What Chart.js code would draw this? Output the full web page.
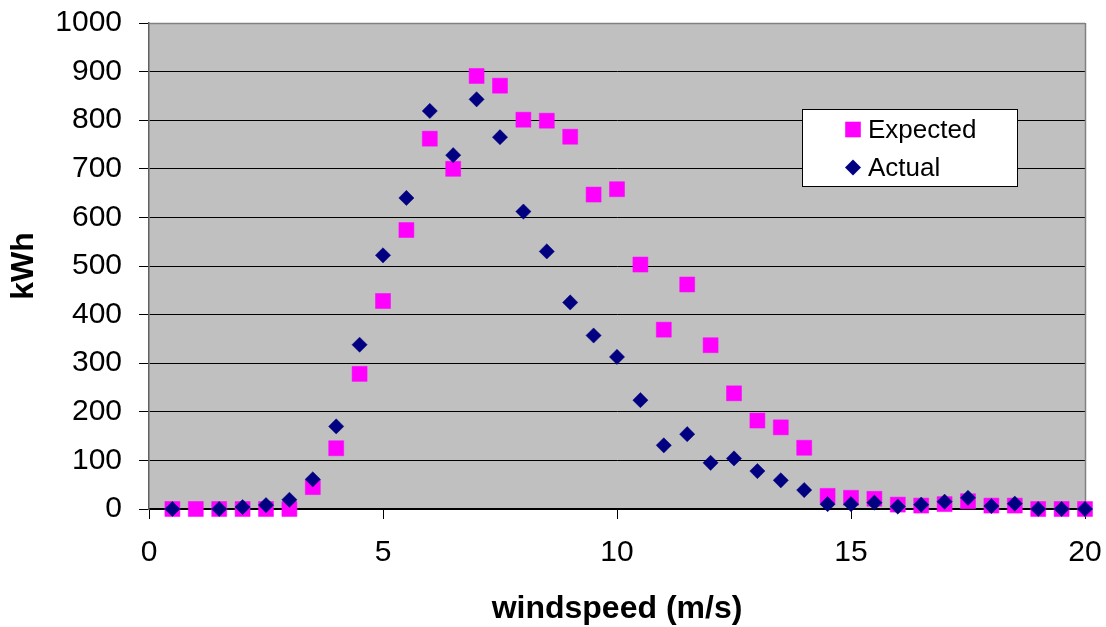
<!DOCTYPE html>
<html>
<head>
<meta charset="utf-8">
<script src="https://cdn.jsdelivr.net/npm/chart.js@4/dist/chart.umd.min.js"></script>
<style>
  html, body { margin: 0; padding: 0; background: #ffffff; }
  #wrap { width: 1106px; height: 627px; position: relative; }
</style>
</head>
<body>
<div id="wrap"><canvas id="c" width="1106" height="627"></canvas></div>
<script>
const windspeed = [0.5, 1, 1.5, 2, 2.5, 3, 3.5, 4, 4.5, 5, 5.5, 6, 6.5, 7, 7.5, 8, 8.5, 9, 9.5, 10,
                   10.5, 11, 11.5, 12, 12.5, 13, 13.5, 14, 14.5, 15, 15.5, 16, 16.5, 17, 17.5, 18, 18.5, 19, 19.5, 20];
const expected = [0, 0, 0, 0, 0, 0, 45, 125, 278, 428, 574, 762, 700, 891, 871, 801, 799, 766, 647, 658,
                  503, 369, 462, 337, 238, 182, 168, 126, 27, 23, 21, 9, 7, 10, 16, 7, 7, 0, 0, 0];
const actual = [0, null, 0, 4, 8, 19, 61, 170, 338, 522, 640, 819, 728, 843, 765, 612, 530, 425, 357, 313,
                224, 131, 154, 95, 104, 78, 59, 39, 10, 10, 13, 5, 9, 15, 23, 6, 11, 0, 0, 0];
const seriesNames = ['Expected', 'Actual'];
const xTicks = [0, 5, 10, 15, 20];
const yTicks = [0, 100, 200, 300, 400, 500, 600, 700, 800, 900, 1000];

const FONT = "'Liberation Sans', Arial, sans-serif";

function pts(ys) {
  const out = [];
  windspeed.forEach((x, i) => { if (ys[i] !== null) out.push({ x: x, y: ys[i] }); });
  return out;
}

function noPad(s) { s.paddingTop = 0; s.paddingBottom = 0; s.paddingLeft = 0; s.paddingRight = 0; }

const plotBg = {
  id: 'plotBg',
  beforeDraw(chart) {
    const a = chart.chartArea, ctx = chart.ctx;
    ctx.save();
    ctx.fillStyle = '#C0C0C0';
    ctx.fillRect(a.left, a.top, a.right - a.left, a.bottom - a.top);
    ctx.restore();
  },
  beforeDatasetsDraw(chart) {
    const a = chart.chartArea, ctx = chart.ctx;
    ctx.save();
    ctx.strokeStyle = '#808080';
    ctx.lineWidth = 1.5;
    ctx.beginPath();
    ctx.moveTo(a.left, a.top + 0.5);
    ctx.lineTo(a.right, a.top + 0.5);
    ctx.moveTo(a.right + 0.5, a.top);
    ctx.lineTo(a.right + 0.5, a.bottom);
    ctx.stroke();
    ctx.restore();
  }
};

const boxLegend = {
  id: 'boxLegend',
  afterDraw(chart) {
    const ctx = chart.ctx;
    const L = 802, T = 109, W = 215, H = 77;
    ctx.save();
    ctx.fillStyle = '#ffffff';
    ctx.fillRect(L, T, W, H);
    ctx.strokeStyle = '#000000';
    ctx.lineWidth = 1;
    ctx.strokeRect(L + 0.5, T + 0.5, W, H);
    ctx.font = '26px ' + FONT;
    ctx.textBaseline = 'middle';
    ctx.textAlign = 'left';
    const rows = [129.5, 167.5];
    chart.data.datasets.forEach((ds, i) => {
      const cy = rows[i], cx = 853;
      ctx.fillStyle = ds.backgroundColor;
      ctx.beginPath();
      if (ds.pointStyle === 'rect') {
        ctx.rect(cx - 7.8, cy - 7.8, 15.6, 15.6);
      } else {
        ctx.moveTo(cx - 8, cy); ctx.lineTo(cx, cy - 8); ctx.lineTo(cx + 8, cy); ctx.lineTo(cx, cy + 8);
        ctx.closePath();
      }
      ctx.fill();
      ctx.fillStyle = '#000000';
      ctx.fillText(ds.label, 868, cy + 1);
    });
    ctx.restore();
  }
};

new Chart(document.getElementById('c'), {
  type: 'scatter',
  data: {
    datasets: [
      { label: seriesNames[0], data: pts(expected), pointStyle: 'rect', pointRadius: 10.6, pointHoverRadius: 10.6,
        backgroundColor: '#FF00FF', borderColor: '#FF00FF', borderWidth: 0.5, order: 1, clip: false },
      { label: seriesNames[1], data: pts(actual), pointStyle: 'rectRot', pointRadius: 7.6, pointHoverRadius: 7.6,
        backgroundColor: '#000080', borderColor: '#000080', borderWidth: 0.5, order: 0, clip: false }
    ]
  },
  options: {
    responsive: false,
    animation: false,
    events: [],
    layout: { padding: { top: 23, right: 21, bottom: 0, left: 0 } },
    plugins: { legend: { display: false }, tooltip: { enabled: false } },
    scales: {
      x: {
        type: 'linear', min: 0, max: 20,
        afterFit(s) { s.height = 118; noPad(s); },
        afterBuildTicks(s) { s.ticks = xTicks.map(v => ({ value: v })); },
        grid: { drawOnChartArea: false, drawTicks: true, tickLength: 10, color: '#000000', lineWidth: 1 },
        border: { display: true, color: '#000000', width: 1.5 },
        ticks: { color: '#000000', padding: 16, font: { family: FONT, size: 30 }, maxRotation: 0,
                 callback: v => String(v) },
        title: { display: true, text: 'windspeed (m/s)', color: '#000000',
                 font: { family: FONT, size: 32, weight: 'bold', lineHeight: 1.1 }, padding: { top: 0, bottom: 0 } }
      },
      y: {
        type: 'linear', min: 0, max: 1000,
        afterFit(s) { s.width = 149; noPad(s); },
        afterBuildTicks(s) { s.ticks = yTicks.map(v => ({ value: v })); },
        grid: { drawOnChartArea: true, drawTicks: true, tickLength: 10, color: '#000000', lineWidth: 1 },
        border: { display: true, color: '#606060', width: 1.5 },
        ticks: { color: '#000000', padding: 17, font: { family: FONT, size: 30 }, callback: v => String(v) },
        title: { display: true, text: 'kWh', color: '#000000',
                 font: { family: FONT, size: 32, weight: 'bold', lineHeight: 1.1 }, padding: { top: 7, bottom: 0 } }
      }
    }
  },
  plugins: [plotBg, boxLegend]
});
</script>
</body>
</html>
